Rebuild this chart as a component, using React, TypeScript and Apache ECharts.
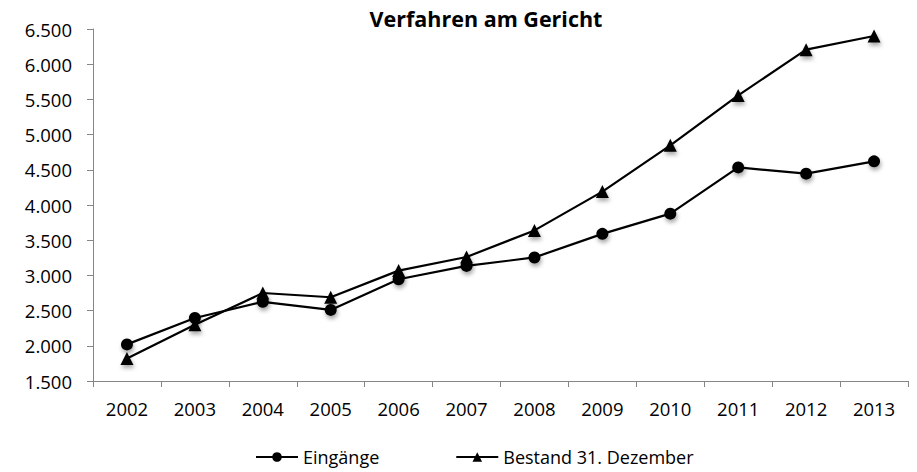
import React, { useEffect, useRef } from "react";
import * as echarts from "echarts";

const years = ["2002", "2003", "2004", "2005", "2006", "2007", "2008", "2009", "2010", "2011", "2012", "2013"];
const eingaenge = [2020, 2395, 2625, 2510, 2945, 3135, 3255, 3590, 3877, 4534, 4445, 4620];
const bestand = [1820, 2300, 2750, 2690, 3068, 3262, 3639, 4190, 4847, 5557, 6206, 6400];
const seriesNames = ["Eingänge", "Bestand 31. Dezember"];
const titleText = "Verfahren am Gericht";

const FONT = "'Open Sans', 'Noto Sans', sans-serif";

export default function App() {
  const ref = useRef<HTMLDivElement>(null);
  useEffect(() => {
    document.body.style.margin = "0";
    if (!ref.current) return;
    const chart = echarts.init(ref.current, undefined, { renderer: "svg" });
    const shadow = {
      shadowBlur: 4,
      shadowColor: "rgba(0,0,0,0.35)",
      shadowOffsetX: 1,
      shadowOffsetY: 3,
    };
    chart.setOption({
      animation: false,
      backgroundColor: "#ffffff",
      textStyle: { fontFamily: FONT },
      title: {
        text: titleText,
        left: 481,
        top: 2,
        textAlign: "center",
        textStyle: { fontFamily: FONT, fontSize: 21.5, fontWeight: "bold", color: "#000" },
      },
      grid: { left: 93, right: 9, top: 29, bottom: 91, containLabel: false },
      legend: {
        data: seriesNames,
        left: 255,
        top: 448,
        padding: 0,
        itemWidth: 42,
        itemHeight: 12,
        itemGap: 76,
        textStyle: { fontFamily: FONT, fontSize: 18, color: "#000" },
      },
      xAxis: {
        type: "category",
        data: years,
        boundaryGap: true,
        axisLine: { show: true, lineStyle: { color: "#868686", width: 1 } },
        axisTick: { show: true, length: 6, lineStyle: { color: "#868686" } },
        axisLabel: { color: "#000", fontSize: 18.5, fontFamily: FONT, margin: 18 },
        splitLine: { show: false },
      },
      yAxis: {
        type: "value",
        min: 1500,
        max: 6500,
        interval: 500,
        axisLine: { show: true, lineStyle: { color: "#868686", width: 1 } },
        axisTick: { show: true, length: 6, lineStyle: { color: "#868686" } },
        axisLabel: {
          color: "#000",
          fontSize: 18.5,
          fontFamily: FONT,
          margin: 21,
          formatter: (v: number) => v.toLocaleString("de-DE"),
        },
        splitLine: { show: false },
      },
      series: [
        {
          name: seriesNames[0],
          type: "line",
          data: eingaenge,
          symbol: "circle",
          symbolSize: 12,
          showSymbol: true,
          lineStyle: { color: "#000", width: 2.2 },
          itemStyle: { color: "#000", ...shadow },
        },
        {
          name: seriesNames[1],
          type: "line",
          data: bestand,
          symbol: "triangle",
          symbolSize: 13,
          showSymbol: true,
          lineStyle: { color: "#000", width: 2.2 },
          itemStyle: { color: "#000", ...shadow },
        },
      ],
    });
    return () => chart.dispose();
  }, []);
  return <div ref={ref} style={{ width: 917, height: 472 }} />;
}
